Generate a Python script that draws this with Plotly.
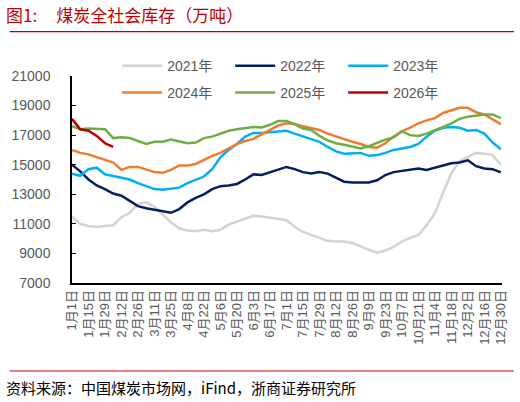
import pandas as pd
import plotly.graph_objects as go

# 周度取值（按2024闰年日历放置，横轴只显示月日）
dates = pd.date_range("2024-01-01", periods=53, freq="7D")

y2021 = [11500, 11000, 10850, 10800, 10850, 10900, 11450, 11750, 12350, 12450,
         12150, 11650, 11100, 10700, 10550, 10500, 10600, 10500, 10600, 10950,
         11150, 11350, 11550, 11500, 11450, 11350, 11250, 10800, 10450, 10250,
         10100, 9850, 9800, 9800, 9700, 9450, 9250, 9050, 9200, 9450,
         9800, 10050, 10250, 10900, 11700, 13100, 14400, 15250, 15550, 15800,
         15750, 15650, 15000]
y2022 = [15000, 14550, 14000, 13600, 13350, 13050, 12900, 12550, 12200, 12050,
         11950, 11800, 11750, 12000, 12450, 12750, 13000, 13350, 13550, 13600,
         13700, 14000, 14350, 14300, 14500, 14650, 14850, 14700, 14500, 14400,
         14500, 14400, 14150, 13850, 13800, 13800, 13800, 13950, 14300, 14500,
         14600, 14700, 14750, 14650, 14800, 14950, 15100, 15150, 15300, 14900,
         14750, 14700, 14480]
y2023 = [14400, 14250, 14700, 14800, 14350, 14250, 14150, 14000, 13750, 13550,
         13350, 13300, 13350, 13450, 13750, 13950, 14200, 14700, 15500, 16000,
         16400, 16900, 17150, 17150, 17200, 17250, 17300, 17100, 16900, 16700,
         16550, 16200, 15900, 15750, 15750, 15800, 15600, 15650, 15800, 16000,
         16100, 16200, 16400, 16900, 17300, 17500, 17550, 17500, 17300, 17350,
         17100, 16500, 16050]
y2024 = [16000, 15800, 15700, 15500, 15300, 15150, 14650, 14850, 14850, 14650,
         14500, 14450, 14650, 14950, 14950, 15050, 15350, 15600, 15800, 16100,
         16400, 16600, 16750, 17050, 17350, 17650, 17800, 17750, 17600, 17450,
         17350, 17100, 16900, 16700, 16550, 16400, 16200, 16150, 16450, 16900,
         17250, 17500, 17800, 18000, 18150, 18500, 18700, 18850, 18850, 18550,
         18400, 18100, 17750]
y2025 = [17600, 17400, 17450, 17450, 17400, 16800, 16850, 16800, 16600, 16400,
         16550, 16550, 16700, 16600, 16450, 16500, 16800, 16900, 17100, 17300,
         17400, 17450, 17550, 17520, 17700, 17950, 17950, 17750, 17450, 17350,
         16950, 16650, 16450, 16350, 16200, 16100, 16250, 16500, 16700, 16850,
         17250, 17000, 16950, 17100, 17300, 17550, 17800, 18100, 18250, 18350,
         18400, 18400, 18150]
y2026 = [18100, 17400, 17300, 16950, 16450, 16200]

series = [
    ("2021年", y2021, "#D3D3D3", "legend"),
    ("2022年", y2022, "#002060", "legend"),
    ("2023年", y2023, "#00B0F0", "legend"),
    ("2024年", y2024, "#ED7D31", "legend2"),
    ("2025年", y2025, "#70AD47", "legend2"),
    ("2026年", y2026, "#C00000", "legend2"),
]

fig = go.Figure()
for name, vals, color, lg in series:
    fig.add_trace(go.Scatter(
        x=dates[:len(vals)], y=vals, name=name, mode="lines",
        line=dict(color=color, width=2.5), legend=lg,
    ))

DAY = 86400000
xrange = ["2024-01-01", "2024-12-31"]
grey = "#595959"
tickfont = dict(family="Liberation Sans, Arial, Noto Sans CJK SC", size=14, color=grey)
legfont = dict(size=14, color=grey)

fig.update_layout(
    width=520, height=402,
    margin=dict(l=68, r=17, t=76, b=119),
    plot_bgcolor="white", paper_bgcolor="white",
    font=tickfont,
    xaxis=dict(
        type="date", range=xrange, tick0="2024-01-01", dtick=14 * DAY,
        tickformat="%-m月%-d日", tickangle=-90, ticks="",
        tickfont=dict(size=13, color=grey),
        showline=True, linecolor="black", linewidth=1.5,
        showgrid=False, zeroline=False,
    ),
    xaxis2=dict(
        type="date", range=xrange, overlaying="x", anchor="y",
        tick0="2024-01-01", dtick=20 * DAY, ticks="inside", ticklen=4,
        tickcolor="black", showticklabels=False, showline=False,
        showgrid=False, zeroline=False,
    ),
    yaxis=dict(
        range=[7000, 21000], tick0=7000, dtick=2000, tickformat="d",
        ticks="inside", ticklen=4,
        tickcolor="black", showline=True, linecolor="black", linewidth=1.5,
        showgrid=False, zeroline=False, ticklabelstandoff=17,
    ),
    legend=dict(
        orientation="h", x=0.105, y=1.048, xanchor="left", yanchor="middle",
        entrywidth=58, itemwidth=40, font=legfont, bgcolor="rgba(0,0,0,0)",
    ),
    legend2=dict(
        orientation="h", x=0.105, y=0.918, xanchor="left", yanchor="middle",
        entrywidth=58, itemwidth=40, font=legfont, bgcolor="rgba(0,0,0,0)",
    ),
    showlegend=True,
)

# 标题与资料来源
red = "#C00000"
cjk = "Noto Sans CJK SC"
fig.add_annotation(
    text="图1:&nbsp;&nbsp;&nbsp;&nbsp;&nbsp;煤炭全社会库存（万吨）",
    xref="paper", yref="paper", x=-0.159, y=1.295,
    xanchor="left", yanchor="middle", showarrow=False,
    font=dict(family=cjk, size=17, color=red),
)
fig.add_annotation(
    text="资料来源：中国煤炭市场网，iFind，浙商证券研究所",
    xref="paper", yref="paper", x=-0.159, y=-0.507,
    xanchor="left", yanchor="middle", showarrow=False,
    font=dict(family=cjk, size=15, color="black"),
)
for yy in (1.214, -0.425):
    fig.add_shape(type="line", xref="paper", yref="paper",
                  x0=-0.145, x1=1.028, y0=yy, y1=yy,
                  line=dict(color=red, width=1.2))

fig.write_html("out.html", config={"displayModeBar": False},
               post_script="document.body.style.margin='0';")
